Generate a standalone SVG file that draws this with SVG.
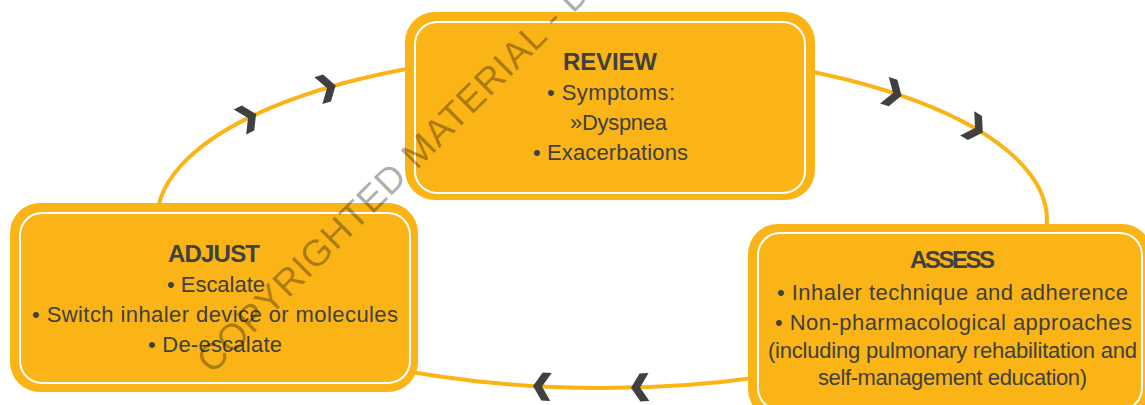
<svg xmlns="http://www.w3.org/2000/svg" width="1145" height="405" viewBox="0 0 1145 405">
<defs>
<style>
.box{fill:#FAB416}
.inner{fill:none;stroke:#FFFFFF;stroke-width:2}
.cyc{fill:none;stroke:#FAB416;stroke-width:4}
.chev{fill:#404040}
.t{font-family:"Liberation Sans",Arial,sans-serif;fill:#404040;text-anchor:middle}
.h{font-size:24px;font-weight:bold}
.b{font-size:22px}
.wm{font-family:"Liberation Sans",Arial,sans-serif;font-size:37px;fill:#000;fill-opacity:0.32}
</style>
<path id="chv" d="M-9,-14 L0,-14 L9,0 L0,14 L-9,14 L0,0 Z"/>
</defs>
<rect width="1145" height="405" fill="#FFFFFF"/>
<g id="connectors">
<ellipse class="cyc" cx="602" cy="220" rx="445" ry="168"/>
<use href="#chv" class="chev" transform="translate(248,118) rotate(-26.4)"/>
<use href="#chv" class="chev" transform="translate(327,88) rotate(-16.5)"/>
<use href="#chv" class="chev" transform="translate(893,93) rotate(18.1)"/>
<use href="#chv" class="chev" transform="translate(975,128) rotate(30.1)"/>
<use href="#chv" class="chev" transform="translate(542,386.5) rotate(-177.1)"/>
<use href="#chv" class="chev" transform="translate(640,387.4) rotate(178.2)"/>
</g>
<g id="review">
<rect class="box" x="405" y="12" width="410" height="188" rx="30"/>
<rect class="inner" x="415" y="22" width="390" height="171" rx="22"/>
<text class="t h" x="610" y="70" textLength="94">REVIEW</text>
<text class="t b" x="611" y="100" textLength="128">• Symptoms:</text>
<text class="t b" x="618.5" y="130" textLength="97">»Dyspnea</text>
<text class="t b" x="610.5" y="160" textLength="155">• Exacerbations</text>
</g>
<g id="adjust">
<rect class="box" x="10" y="203" width="408" height="189" rx="30"/>
<rect class="inner" x="20" y="213" width="390" height="170" rx="22"/>
<text class="t h" x="214" y="262" textLength="92">ADJUST</text>
<text class="t b" x="216" y="292" textLength="98">• Escalate</text>
<text class="t b" x="215" y="322" textLength="366">• Switch inhaler device or molecules</text>
<text class="t b" x="215" y="352" textLength="134">• De-escalate</text>
</g>
<g id="assess">
<rect class="box" x="748" y="224" width="404" height="195" rx="30"/>
<rect class="inner" x="758" y="233" width="384" height="177" rx="22"/>
<text class="t h" x="952.5" y="268" textLength="85">ASSESS</text>
<text class="t b" x="952.5" y="300" textLength="351">• Inhaler technique and adherence</text>
<text class="t b" x="953.5" y="330" textLength="357">• Non-pharmacological approaches</text>
<text class="t b" x="952.5" y="357.5" textLength="369">(including pulmonary rehabilitation and</text>
<text class="t b" x="952.5" y="385" textLength="269">self-management education)</text>
</g>
<text class="wm" x="212" y="375" transform="rotate(-45 212 375)" textLength="537">COPYRIGHTED MATERIAL - D</text>
</svg>
